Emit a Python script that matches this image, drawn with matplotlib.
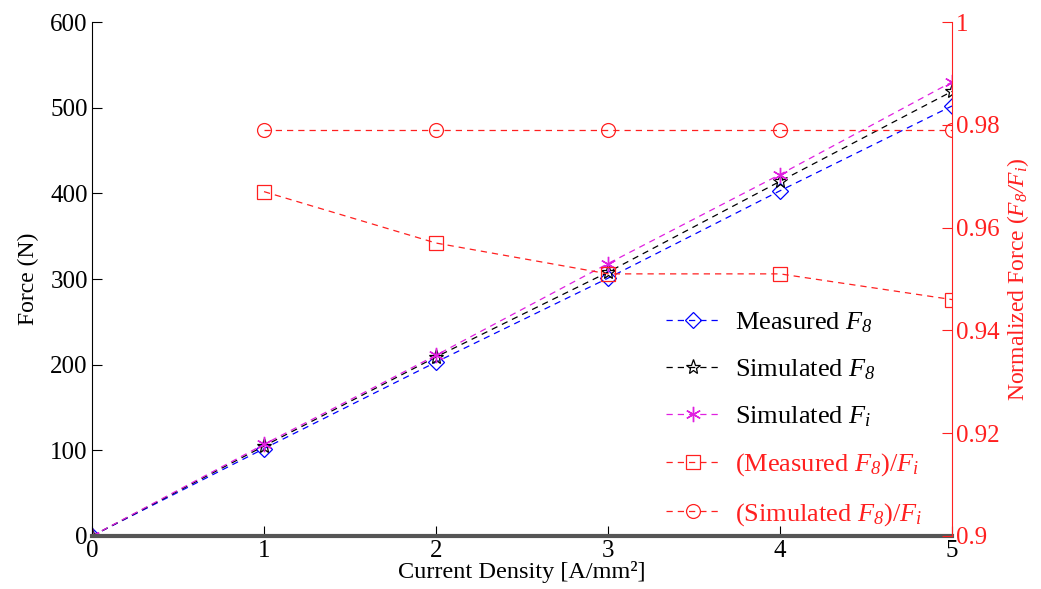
import matplotlib.pyplot as plt

plt.rcParams['font.family'] = ['Liberation Serif', 'DejaVu Serif']
# all math symbols (F, 8, i) in italic serif
plt.rcParams['mathtext.fontset'] = 'custom'
plt.rcParams['mathtext.rm'] = 'Liberation Serif:italic'
plt.rcParams['mathtext.it'] = 'Liberation Serif:italic'

# current density steps
j = [0, 1, 2, 3, 4, 5]
# forces in N
meas_f8 = [0, 102, 203, 301, 403, 502]
sim_f8 = [0, 105, 209, 308, 414, 519]
sim_fi = [0, 107, 211, 318, 422, 530]
# normalized forces (no value at j = 0)
j_ratio = [1, 2, 3, 4, 5]
meas_ratio = [0.967, 0.957, 0.951, 0.951, 0.946]
sim_ratio = [0.979, 0.979, 0.979, 0.979, 0.979]

red = '#ff2020'
dash = (0, (5, 4))

fig = plt.figure(figsize=(10.41, 5.89), dpi=100)
ax = fig.add_axes([0.0884, 0.09, 0.8261, 0.8726])
ax2 = ax.twinx()

h1, = ax.plot(j, meas_f8, color='#0000ff', ls=dash, lw=0.9, marker='D',
              ms=8, mfc='none', mew=0.9, label='Measured $F_8$')
h2, = ax.plot(j, sim_f8, color='black', ls=dash, lw=0.9, marker='*',
              ms=11, mfc='none', mew=0.9, label='Simulated $F_8$')
h3, = ax.plot(j, sim_fi, color='#e020e0', ls=dash, lw=0.9, marker=(6, 2, 0),
              ms=11, mew=1.0, label='Simulated $F_i$')
h4, = ax2.plot(j_ratio, meas_ratio, color=red, ls=dash, lw=0.9, marker='s',
               ms=10, mfc='none', mew=0.9, label='(Measured $F_8$)/$F_i$')
h5, = ax2.plot(j_ratio, sim_ratio, color=red, ls=dash, lw=0.9, marker='o',
               ms=10, mfc='none', mew=0.9, label='(Simulated $F_8$)/$F_i$')

ax.set_xlim(0, 5)
ax.set_ylim(0, 600)
ax2.set_ylim(0.9, 1.0)
ax.set_xticks(range(6))
ax.set_yticks(range(0, 601, 100))
ax2.set_yticks([0.9, 0.92, 0.94, 0.96, 0.98, 1.0])
ax2.set_yticklabels(['0.9', '0.92', '0.94', '0.96', '0.98', '1'])

for a in (ax, ax2):
    a.spines['top'].set_visible(False)
ax.spines['right'].set_visible(False)
ax.spines['bottom'].set_color('#555555')
ax.spines['bottom'].set_linewidth(3)
ax2.spines['bottom'].set_visible(False)
ax2.spines['left'].set_visible(False)
ax2.spines['right'].set_color(red)

ax.tick_params(axis='both', direction='in', length=7, labelsize=18, pad=3)
ax2.tick_params(axis='y', direction='in', length=7, labelsize=18,
                colors=red, pad=3)

ax.set_xlabel('Current Density [A/mm²]', fontsize=17.5, labelpad=-1)
ax.set_ylabel('Force (N)', fontsize=17, labelpad=8)
ax2.set_ylabel('Normalized Force ($F_8/F_i$)', fontsize=17,
               color=red, labelpad=4)

leg = ax2.legend(handles=[h1, h2, h3, h4, h5], loc='lower left',
                 bbox_to_anchor=(0.64, -0.03), frameon=False, fontsize=19,
                 handlelength=2.0, handletextpad=0.6, labelspacing=0.85)
for t, c in zip(leg.get_texts(), ['black', 'black', 'black', red, red]):
    t.set_color(c)

fig.savefig('out.png', dpi=100)
